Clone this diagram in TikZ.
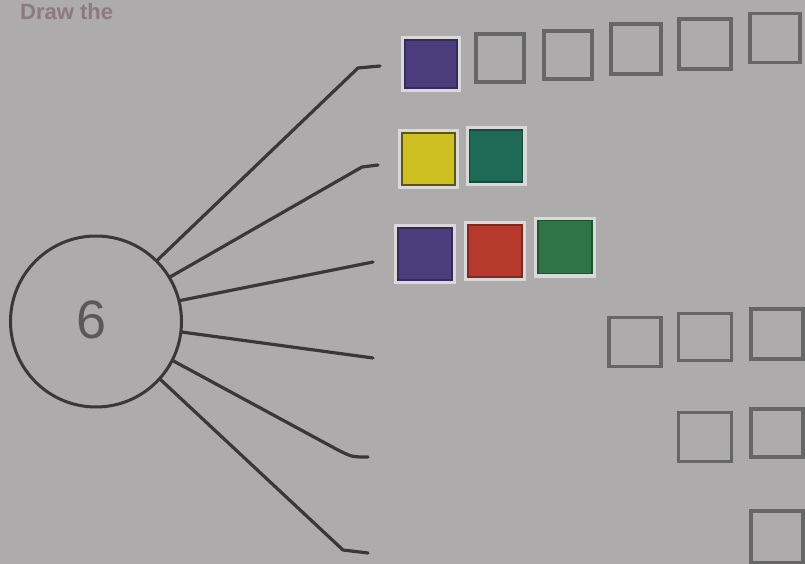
\documentclass[tikz,border=0pt]{standalone}
\usepackage{fontspec}
\setmainfont{Liberation Sans}
\begin{document}
\begin{tikzpicture}[x=1pt,y=-1pt,
  conn/.style={draw=black!78, line width=3.2pt, line cap=round, line join=round},
  emptysq/.style={draw=black!60, line width=3.2pt, inner sep=0pt},
  colsq/.style={draw=#1!70!black, fill=#1, line width=1.2pt, inner sep=0pt},
  halo/.style={draw=white!55!bg, line width=4pt, inner sep=0pt}
]
\definecolor{bg}{HTML}{ADABAB}
\definecolor{cpurple}{HTML}{4C3D7C}
\definecolor{cyellow}{HTML}{CDBE22}
\definecolor{cteal}{HTML}{1E6A56}
\definecolor{cred}{HTML}{B5392C}
\definecolor{cgreen}{HTML}{2E7444}
\definecolor{headc}{HTML}{8C7A7E}
\useasboundingbox (0,0) rectangle (805,564);
\clip (0,0) rectangle (805,564);
\fill[bg] (0,0) rectangle (805,564);

% heading
\node[anchor=base west, inner sep=0pt, text=headc, font=\fontsize{22}{22}\selectfont\bfseries] (head) at (20,20) {Draw the};

% circle
\node[draw=black!78, line width=3pt, circle, minimum size=171pt, inner sep=0pt] (c) at (96,321.5) {};
\node[text=black!65, font=\fontsize{54}{54}\selectfont] (six) at (92,320) {6};

% connector ends
\coordinate (b1) at (358,68);  \coordinate (e1) at (380,66);
\coordinate (b2) at (362,167); \coordinate (e2) at (378,165);
\coordinate (e3) at (373,262);
\coordinate (e4) at (373,358);
\coordinate (b5) at (338,450); \coordinate (e5) at (368,457);
\coordinate (b6) at (343,550); \coordinate (e6) at (368,553);

\draw[conn] (c.45) -- (b1) -- (e1);
\draw[conn] (c.31) -- (b2) -- (e2);
\draw[conn] (c.14) -- (e3);
\draw[conn] (c.-7) -- (e4);
\draw[conn] (c.-27) -- (b5) .. controls (352,457) .. (e5);
\draw[conn] (c.-42) -- (b6) -- (e6);

% row 1
\node[halo, minimum width=56pt, minimum height=52pt] (h11) at (431,64) {};
\node[colsq=cpurple, minimum width=52pt, minimum height=48pt] (r11) at (431,64) {};
\node[emptysq, minimum width=48pt, minimum height=48pt] (r12) at (500,58) {};
\node[emptysq, minimum width=48pt, minimum height=48pt] (r13) at (568,55) {};
\node[emptysq, minimum width=50pt, minimum height=50pt] (r14) at (636,49) {};
\node[emptysq, minimum width=52pt, minimum height=50pt] (r15) at (705,44) {};
\node[emptysq, minimum width=50pt, minimum height=49pt] (r16) at (775,38) {};

% row 2
\node[halo, minimum width=57pt, minimum height=56pt] (h21) at (428,159) {};
\node[colsq=cyellow, draw=cyellow!45!black, line width=2pt, minimum width=53pt, minimum height=52pt] (r21) at (428,159) {};
\node[halo, minimum width=57pt, minimum height=56pt] (h22) at (496,156) {};
\node[colsq=cteal, minimum width=53pt, minimum height=52pt] (r22) at (496,156) {};

% row 3
\node[halo, minimum width=58pt, minimum height=56pt] (h31) at (425,254) {};
\node[colsq=cpurple, minimum width=54pt, minimum height=52pt] (r31) at (425,254) {};
\node[halo, minimum width=58pt, minimum height=56pt] (h32) at (495,251) {};
\node[colsq=cred, minimum width=54pt, minimum height=52pt] (r32) at (495,251) {};
\node[halo, minimum width=58pt, minimum height=57pt] (h33) at (565,247) {};
\node[colsq=cgreen, minimum width=54pt, minimum height=53pt] (r33) at (565,247) {};

% row 4
\node[emptysq, minimum width=52pt, minimum height=49pt] (r41) at (635,342) {};
\node[emptysq, minimum width=53pt, minimum height=47pt] (r42) at (705,337) {};
\node[emptysq, minimum width=52pt, minimum height=50pt] (r43) at (777,334) {};

% row 5
\node[emptysq, minimum width=53pt, minimum height=49pt] (r51) at (705,437) {};
\node[emptysq, minimum width=52pt, minimum height=48pt] (r52) at (777,433) {};

% row 6
\node[emptysq, minimum width=52pt, minimum height=52pt] (r61) at (777,537) {};
\end{tikzpicture}
\end{document}
